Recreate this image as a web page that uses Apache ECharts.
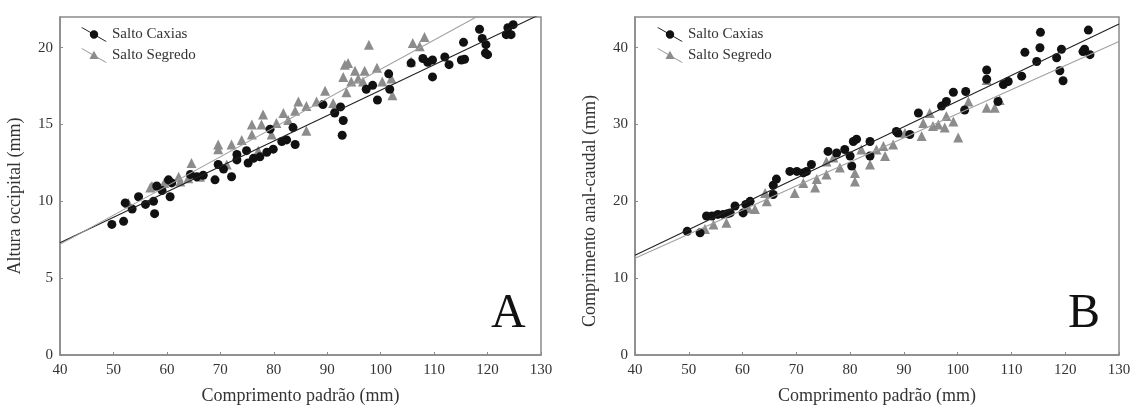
<!DOCTYPE html>
<html>
<head>
<meta charset="utf-8">
<script src="https://cdn.jsdelivr.net/npm/echarts@6/dist/echarts.min.js"></script>
<style>
html,body{margin:0;padding:0;background:#fff;}
#chart{width:1134px;height:410px;}
</style>
</head>
<body>
<div id="chart"></div>
<script>
// ---- Data ----
const seriesNames = ['Salto Caxias', 'Salto Segredo'];
const xAxisName = 'Comprimento padrão (mm)';
const yAxisNameA = 'Altura occipital (mm)';
const yAxisNameB = 'Comprimento anal-caudal (mm)';
const panelLabels = ['A', 'B'];

// Panel A: Altura occipital vs Comprimento padrão
const caxiasA = [[49.7,8.5],[51.9,8.7],[52.2,9.9],[53.5,9.5],[54.7,10.3],[56.0,9.8],[57.5,10.0],[57.7,9.2],[58.1,11.0],[59.1,10.7],[60.3,11.4],[60.6,10.3],[60.9,11.2],[64.4,11.75],[65.6,11.6],[66.8,11.7],[69.0,11.4],[69.6,12.4],[70.6,12.1],[72.1,11.6],[73.1,13.05],[73.1,12.7],[74.9,13.3],[75.2,12.5],[76.2,12.8],[77.4,12.9],[78.7,13.2],[79.3,14.7],[79.9,13.4],[81.5,13.9],[82.4,14.0],[83.6,14.8],[84.0,13.7],[89.2,16.3],[91.4,15.75],[92.5,16.15],[93.0,15.26],[92.8,14.3],[97.3,17.3],[98.5,17.55],[99.4,16.6],[101.5,18.3],[101.7,17.3],[105.7,19.0],[107.9,19.3],[108.8,19.05],[109.7,19.2],[109.7,18.1],[112.0,19.4],[112.8,18.9],[115.1,19.2],[115.5,20.35],[115.7,19.25],[118.5,21.2],[119.0,20.6],[119.7,20.2],[119.6,19.65],[120.0,19.55],[123.5,20.85],[123.8,21.3],[124.4,20.85],[124.8,21.5]];
const segredoA = [[52.8,9.9],[56.9,10.9],[57.2,11.0],[59.5,11.2],[62.2,11.6],[62.5,11.3],[64.0,11.5],[64.6,12.5],[66.2,11.6],[69.6,13.7],[69.6,13.4],[71.2,12.4],[72.1,13.7],[74.0,14.0],[75.9,15.0],[75.9,14.35],[77.1,13.3],[77.7,15.0],[78.0,15.65],[79.6,14.35],[80.5,15.1],[81.8,15.75],[82.7,15.3],[84.0,15.9],[84.6,16.5],[86.1,16.2],[86.1,14.6],[88.0,16.5],[89.6,17.2],[91.1,16.4],[91.4,16.1],[93.0,18.1],[93.3,18.9],[93.9,19.0],[93.6,17.1],[94.5,17.8],[95.2,18.5],[95.8,18.0],[96.7,17.8],[97.0,18.5],[97.8,20.2],[99.3,18.7],[100.3,17.8],[102.0,18.0],[102.2,16.9],[105.7,19.1],[106.0,20.3],[107.3,20.1],[108.2,20.7]];
const fitCaxiasA = [[40,7.3],[130,22.2]];
const fitSegredoA = [[40,7.2],[130,24.3]];

// Panel B: Comprimento anal-caudal vs Comprimento padrão
const caxiasB = [[49.7,16.1],[52.1,15.9],[53.3,18.1],[54.3,18.1],[55.4,18.3],[56.4,18.3],[57.2,18.4],[57.7,18.5],[58.6,19.4],[60.1,18.5],[60.6,19.6],[61.4,20.0],[65.7,22.1],[66.3,22.9],[65.7,20.9],[68.8,23.9],[70.1,23.9],[71.3,23.7],[71.9,23.9],[72.8,24.8],[75.9,26.5],[77.5,26.3],[79.0,26.75],[80.0,25.9],[80.3,24.6],[80.6,27.8],[81.2,28.1],[83.7,27.8],[83.7,25.9],[88.6,29.1],[88.9,28.9],[91.1,28.7],[92.7,31.5],[97.0,32.4],[97.9,33.0],[99.2,34.2],[101.5,34.3],[101.3,31.9],[105.4,37.1],[105.4,35.9],[107.5,33.0],[108.5,35.2],[109.4,35.6],[111.9,36.3],[112.5,39.4],[114.7,38.2],[115.3,40.0],[115.4,42.0],[118.4,38.7],[119.3,39.8],[119.0,37.0],[119.6,35.7],[123.3,39.5],[123.6,39.8],[124.3,42.3],[124.6,39.1]];
const segredoB = [[53.0,16.4],[54.6,17.0],[57.0,17.2],[61.1,19.1],[62.3,19.0],[64.2,21.1],[64.5,20.0],[69.7,21.1],[71.3,22.4],[73.5,21.8],[73.8,22.9],[75.6,23.5],[75.6,25.2],[76.9,25.7],[78.1,24.4],[80.9,22.6],[80.9,23.7],[82.1,26.75],[83.7,24.8],[84.9,26.75],[86.2,27.2],[86.5,25.9],[88.0,27.4],[90.2,28.9],[93.3,28.5],[93.6,30.2],[94.8,31.5],[95.4,29.8],[96.4,30.0],[97.6,29.6],[97.9,31.1],[99.2,30.4],[100.1,28.3],[102.0,33.0],[105.4,35.8],[105.4,32.2],[106.9,32.2],[107.8,33.2]];
const fitCaxiasB = [[40,13.0],[130,43.1]];
const fitSegredoB = [[40,12.6],[130,40.8]];

const xRange = [40, 130, 10];
const yRangeA = [0, 22, 5];
const yRangeB = [0, 44, 10];

// ---- Styling ----
const FONT = '"Liberation Serif", "DejaVu Serif", serif';
const BLACK = '#111111';
const GRAY = '#8c8c8c';
const AXIS = '#8a8a8a';
const TEXT = '#333333';

const iconCircle = 'path://M0,0 L1.6,0 L26,14 L24.4,14 Z M13,2.8 A4.2,4.2 0 1 1 12.99,2.8 Z';
const iconTri = 'path://M0,0 L1.6,0 L26,14 L24.4,14 Z M13,2.2 L17.6,10.6 L8.4,10.6 Z';

const grids = [
  {left: 60, top: 17, width: 481, height: 339},
  {left: 635, top: 17, width: 484, height: 339}
];

function xAxisFor(i) {
  return {
    type: 'value', gridIndex: i, min: xRange[0], max: xRange[1], interval: xRange[2],
    name: xAxisName, nameLocation: 'middle', nameGap: 32,
    nameTextStyle: {fontFamily: FONT, fontSize: 18, color: TEXT},
    axisLine: {show: true, lineStyle: {color: AXIS, width: 1.5}},
    axisTick: {show: true, inside: true, length: 3, lineStyle: {color: AXIS}},
    axisLabel: {fontFamily: FONT, fontSize: 15, color: TEXT, margin: 8},
    splitLine: {show: false}
  };
}
function yAxisFor(i, rng, name, pad) {
  return {
    type: 'value', gridIndex: i, min: rng[0], max: rng[1], interval: rng[2],
    name: name, nameLocation: 'middle', nameGap: 36,
    nameTextStyle: {fontFamily: FONT, fontSize: 18, color: TEXT, padding: pad},
    axisLine: {show: true, lineStyle: {color: AXIS, width: 1.5}},
    axisTick: {show: true, inside: true, length: 3, lineStyle: {color: AXIS}},
    axisLabel: {fontFamily: FONT, fontSize: 15, color: TEXT, margin: 7, showMaxLabel: false},
    splitLine: {show: false}
  };
}

function scatter(name, data, i, symbol, color, size) {
  return {
    type: 'scatter', name: name, xAxisIndex: i, yAxisIndex: i, data: data,
    symbol: symbol, symbolSize: size, itemStyle: {color: color, opacity: 1},
    z: symbol === 'circle' ? 4 : 3
  };
}
function fit(name, data, i, color) {
  return {
    type: 'line', name: name, xAxisIndex: i, yAxisIndex: i, data: data,
    symbol: 'none', clip: true, lineStyle: {color: color, width: 1.1}, z: 5, silent: true
  };
}
function legendFor(left) {
  return {
    orient: 'vertical', left: left, top: 22, itemWidth: 26, itemHeight: 14, itemGap: 6,
    textStyle: {fontFamily: FONT, fontSize: 15, color: TEXT},
    data: [
      {name: seriesNames[0], icon: iconCircle, itemStyle: {color: BLACK}},
      {name: seriesNames[1], icon: iconTri, itemStyle: {color: GRAY}}
    ]
  };
}

const chart = echarts.init(document.getElementById('chart'), null, {renderer: 'canvas'});
chart.setOption({
  backgroundColor: '#ffffff',
  animation: false,
  grid: grids.map(g => Object.assign({show: true, borderColor: AXIS, borderWidth: 1.5, backgroundColor: 'transparent'}, g)),
  xAxis: [xAxisFor(0), xAxisFor(1)],
  yAxis: [yAxisFor(0, yRangeA, yAxisNameA, [0, 20, 0, 0]), yAxisFor(1, yRangeB, yAxisNameB, [0, 50, 0, 0])],
  legend: [legendFor(76), legendFor(652)],
  series: [
    scatter(seriesNames[1], segredoA, 0, 'triangle', GRAY, 10),
    scatter(seriesNames[0], caxiasA, 0, 'circle', BLACK, 9),
    fit('fit Caxias A', fitCaxiasA, 0, '#222'),
    fit('fit Segredo A', fitSegredoA, 0, '#a0a0a0'),
    scatter(seriesNames[1], segredoB, 1, 'triangle', GRAY, 10),
    scatter(seriesNames[0], caxiasB, 1, 'circle', BLACK, 9),
    fit('fit Caxias B', fitCaxiasB, 1, '#222'),
    fit('fit Segredo B', fitSegredoB, 1, '#a0a0a0')
  ],
  graphic: [
    {type: 'text', left: 491, top: 290, style: {text: panelLabels[0], font: '48px ' + FONT, fill: '#111'}},
    {type: 'text', left: 1068, top: 290, style: {text: panelLabels[1], font: '48px ' + FONT, fill: '#111'}}
  ]
});
</script>
</body>
</html>
